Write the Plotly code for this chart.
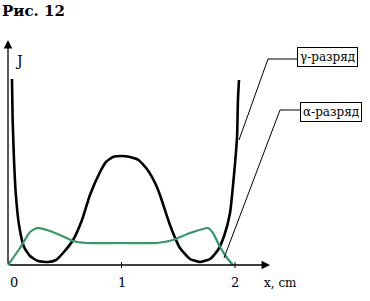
import plotly.graph_objects as go

# --- data (x in cm, J in arbitrary units) ---
gamma_x = [0.035, 0.041, 0.053, 0.068, 0.097, 0.141, 0.194, 0.264, 0.352, 0.423, 0.485,
           0.573, 0.652, 0.722, 0.811, 0.863, 0.925, 1.0, 1.075, 1.150, 1.230, 1.300, 1.339,
           1.427, 1.515, 1.604, 1.692, 1.780, 1.850, 1.907, 1.956, 1.991, 2.018, 2.026, 2.035]
gamma_j = [1.86, 1.45, 1.05, 0.72, 0.40, 0.18, 0.09, 0.04, 0.03, 0.05, 0.12,
           0.25, 0.45, 0.70, 0.93, 1.03, 1.08, 1.09, 1.08, 1.05, 0.95, 0.81, 0.70,
           0.40, 0.17, 0.06, 0.03, 0.06, 0.15, 0.30, 0.52, 0.90, 1.28, 1.65, 1.85]

alpha_x = [0.0, 0.106, 0.194, 0.256, 0.344, 0.458, 0.573, 0.696, 1.0, 1.313,
           1.454, 1.604, 1.762, 1.806, 1.868, 1.930, 1.982]
alpha_j = [0.0, 0.17, 0.33, 0.37, 0.35, 0.30, 0.24, 0.22, 0.22, 0.22,
           0.25, 0.32, 0.37, 0.32, 0.18, 0.07, 0.0]

x_ticks = [0, 1, 2]
tick_labels = ["0", "1", "2"]
series_names = ["γ-разряд", "α-разряд"]

# pixel mapping helpers (figure 370x301, plot area fills figure)
PX0, PXU = 8, 113.5     # pixel of x=0, pixels per cm
PY0, PYU = 265, 100     # pixel of J=0, pixels per J unit
def dx(px): return (px - PX0) / PXU
def dy(py): return (PY0 - py) / PYU

W, H = 370, 301
fig = go.Figure()
fig.add_trace(go.Scatter(x=gamma_x, y=gamma_j, mode="lines", line=dict(color="black", width=2.6, shape="spline", smoothing=0.5),
                         hoverinfo="skip"))
fig.add_trace(go.Scatter(x=alpha_x, y=alpha_j, mode="lines", line=dict(color="#339966", width=2.2, shape="spline", smoothing=0.5),
                         hoverinfo="skip"))

shapes = []
anns = []
font = dict(family="DejaVu Serif", color="black")

# axes with arrows
anns.append(dict(x=dx(8), y=dy(40), ax=dx(8), ay=dy(265), xref="x", yref="y", axref="x", ayref="y",
                 showarrow=True, arrowhead=2, arrowsize=1.3, arrowwidth=1.3, arrowcolor="black", text=""))
anns.append(dict(x=dx(270), y=dy(265), ax=dx(8), ay=dy(265), xref="x", yref="y", axref="x", ayref="y",
                 showarrow=True, arrowhead=2, arrowsize=1.3, arrowwidth=1.3, arrowcolor="black", text=""))
# ticks
for t, lab in zip(x_ticks, tick_labels):
    if t > 0:
        shapes.append(dict(type="line", x0=t, x1=t, y0=dy(262), y1=dy(268), line=dict(color="black", width=1)))
    anns.append(dict(x=max(t, dx(1)), y=dy(282), text=lab, showarrow=False, font=dict(size=13, **font),
                     xanchor="center" if t > 0 else "left", yanchor="middle"))
anns.append(dict(x=dx(262), y=dy(283), text="x, cm", showarrow=False, font=dict(size=12, **font), xanchor="left", yanchor="middle"))
anns.append(dict(x=dx(13), y=dy(61), text="J", showarrow=False, font=dict(size=14, **font), xanchor="left", yanchor="middle"))
anns.append(dict(xref="paper", yref="paper", x=0, y=1 - 11 / H, text="<b>Рис. 12</b>", showarrow=False,
                 font=dict(size=15, **font), xanchor="left", yanchor="middle"))

# legend boxes with leader lines
anns.append(dict(x=dx(297), y=dy(57), text=series_names[0], showarrow=False, font=dict(size=12, **font),
                 xanchor="left", yanchor="middle", bordercolor="black", borderwidth=1, borderpad=2, bgcolor="white"))
anns.append(dict(x=dx(300), y=dy(112), text=series_names[1], showarrow=False, font=dict(size=12, **font),
                 xanchor="left", yanchor="middle", bordercolor="black", borderwidth=1, borderpad=2, bgcolor="white"))
shapes.append(dict(type="line", x0=dx(268), x1=dx(297), y0=dy(59), y1=dy(59), line=dict(color="black", width=1)))
shapes.append(dict(type="line", x0=dx(268), x1=dx(239), y0=dy(59), y1=dy(140), line=dict(color="black", width=1)))
shapes.append(dict(type="line", x0=dx(280), x1=dx(300), y0=dy(110), y1=dy(110), line=dict(color="black", width=1)))
shapes.append(dict(type="line", x0=dx(280), x1=dx(224), y0=dy(110), y1=dy(258), line=dict(color="black", width=1)))

fig.update_layout(
    width=W, height=H, margin=dict(l=0, r=0, t=0, b=0),
    paper_bgcolor="white", plot_bgcolor="white", showlegend=False,
    font=font,
    xaxis=dict(range=[dx(0), dx(W)], visible=False, fixedrange=True),
    yaxis=dict(range=[dy(H), dy(0)], visible=False, fixedrange=True),
    shapes=shapes, annotations=anns,
)
fig.write_html("out.html", config={"displayModeBar": False})
